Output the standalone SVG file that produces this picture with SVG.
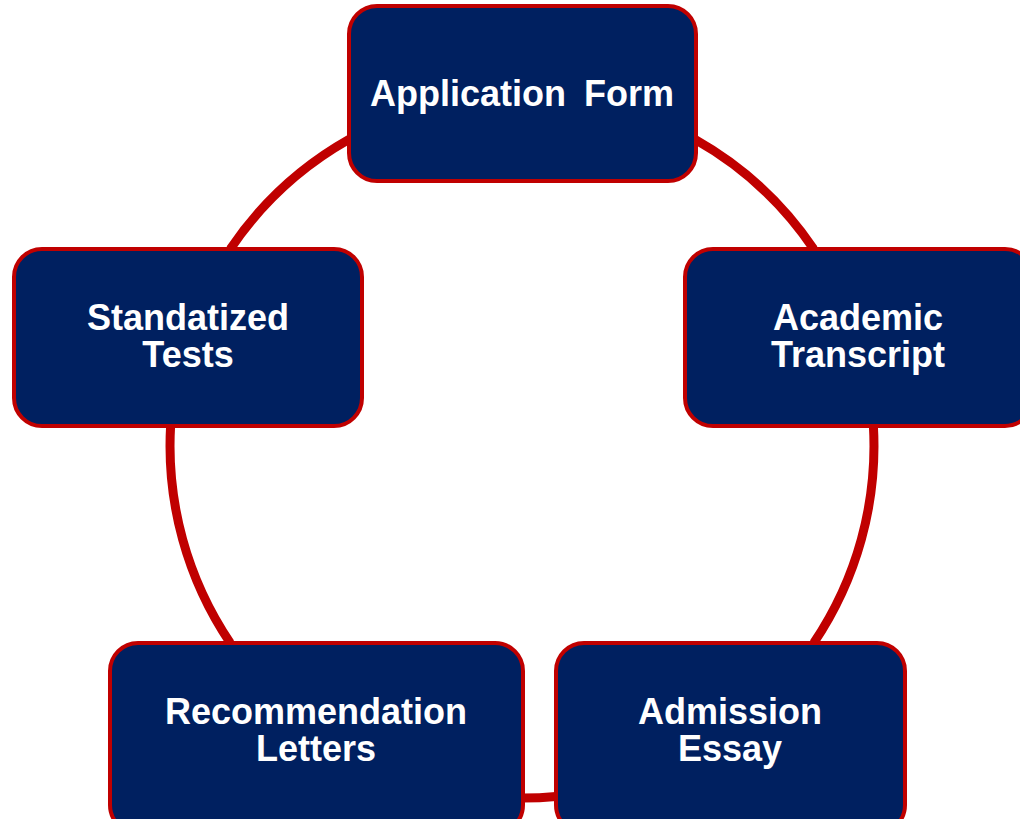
<svg xmlns="http://www.w3.org/2000/svg" width="1020" height="819" viewBox="0 0 1020 819">
<style>
.box{fill:#002060;stroke:#C00000;stroke-width:4}
.lbl{font-family:"Liberation Sans",Arial,sans-serif;font-weight:bold;font-size:36px;fill:#FFFFFF;text-anchor:middle}
.ring{fill:none;stroke:#C00000;stroke-width:9;stroke-linecap:butt}
</style>
<rect width="1020" height="819" fill="#FFFFFF"/>
<g id="connectors">
<path class="ring" d="M230.3,249 A352,352 0 0 1 349,139.4"/>
<path class="ring" d="M695,139.4 A352,352 0 0 1 813.7,249"/>
<path class="ring" d="M873.4,426 A352,352 0 0 1 813.7,643"/>
<path class="ring" d="M556,796.4 A352,352 0 0 1 523,798"/>
<path class="ring" d="M230.3,643 A352,352 0 0 1 170.6,426"/>
</g>
<g id="node-application">
<rect class="box" x="349" y="6" width="347" height="175" rx="28"/>
<text class="lbl" x="522" y="106" word-spacing="8">Application Form</text>
</g>
<g id="node-standardized">
<rect class="box" x="14" y="249" width="348" height="177" rx="28"/>
<text class="lbl" x="188" y="330">Standatized</text>
<text class="lbl" x="188" y="367">Tests</text>
</g>
<g id="node-academic">
<rect class="box" x="685" y="249" width="348" height="177" rx="28"/>
<text class="lbl" x="858" y="330">Academic</text>
<text class="lbl" x="858" y="367">Transcript</text>
</g>
<g id="node-recommendation">
<rect class="box" x="110" y="643" width="413" height="190" rx="28"/>
<text class="lbl" x="316" y="724">Recommendation</text>
<text class="lbl" x="316" y="761">Letters</text>
</g>
<g id="node-essay">
<rect class="box" x="556" y="643" width="349" height="190" rx="28"/>
<text class="lbl" x="730" y="724">Admission</text>
<text class="lbl" x="730" y="761">Essay</text>
</g>
</svg>
